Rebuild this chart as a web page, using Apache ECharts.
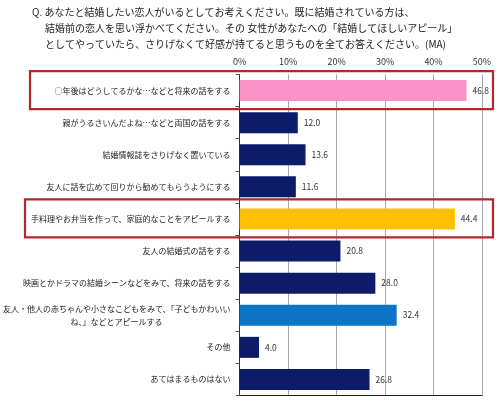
<!DOCTYPE html>
<html><head><meta charset="utf-8">
<script src="https://cdn.jsdelivr.net/npm/echarts@6/dist/echarts.min.js"></script>
<style>html,body{margin:0;padding:0;background:#fff}#c{width:500px;height:407px}</style>
</head><body><div id="c"></div>
<script>
const categories = [
  "○年後はどうしてるかな…などと将来の話をする",
  "親がうるさいんだよね…などと両国の話をする",
  "結婚情報誌をさりげなく置いている",
  "友人に話を広めて回りから勧めてもらうようにする",
  "手料理やお弁当を作って、家庭的なことをアピールする",
  "友人の結婚式の話をする",
  "映画とかドラマの結婚シーンなどをみて、将来の話をする",
  "友人・他人の赤ちゃんや小さなこどもをみて、「子どもかわいい\nね、」などとアピールする",
  "その他",
  "あてはまるものはない"
];
const values = [46.8, 12.0, 13.6, 11.6, 44.4, 20.8, 28.0, 32.4, 4.0, 26.8];
const tickValues = [0, 10, 20, 30, 40, 50];
const titleLines = [
  "Q. あなたと結婚したい恋人がいるとしてお考えください。既に結婚されている方は、",
  "結婚前の恋人を思い浮かべてください。その 女性があなたへの「結婚してほしいアピール」",
  "としてやっていたら、さりげなくて好感が持てると思うものを全てお答えください。(MA)"
];
const highlighted = [0, 4];

const NAVY = '#0c1c6a';
const barColors = {0: '#f993c9', 4: '#ffc000', 7: '#0b74c4'};
const FONT = '"Noto Sans CJK JP", "Noto Sans", sans-serif';

const chart = echarts.init(document.getElementById('c'), null, {renderer: 'canvas'});
const grid = {left: 237, right: 18, top: 74.5, bottom: 11.5};

function catLabel(v) {
  const parts = v.split('\n');
  if (parts.length > 1) {
    return '{a|' + parts[0] + '}\n{b|' + parts[1] + '}';
  }
  return v;
}

const option = {
  animation: false,
  textStyle: {fontFamily: FONT},
  grid: grid,
  xAxis: [{
    type: 'value', position: 'top', min: tickValues[0], max: tickValues[tickValues.length-1], interval: 10,
    axisLine: {show: false}, axisTick: {show: false},
    axisLabel: {formatter: '{value}%', fontSize: 9, color: '#333', margin: 8, fontFamily: FONT},
    splitLine: {show: true, lineStyle: {color: '#a8a8a8', width: 1}}
  }, {
    type: 'value', position: 'bottom', min: 0, max: 50, interval: 10,
    axisLine: {show: true, lineStyle: {color: '#222', width: 1}},
    axisTick: {show: false}, axisLabel: {show: false}, splitLine: {show: false}
  }],
  yAxis: [{
    type: 'category', data: categories, inverse: true,
    axisLine: {show: true, lineStyle: {color: '#555', width: 1}},
    axisTick: {show: true, length: 4, lineStyle: {color: '#555'}},
    axisLabel: {
      fontSize: 8, color: '#222', margin: 9, align: 'right', lineHeight: 13, fontFamily: FONT,
      formatter: catLabel,
      rich: {
        a: {fontSize: 8, color: '#222', fontFamily: FONT, lineHeight: 13},
        b: {fontSize: 8, color: '#222', fontFamily: FONT, lineHeight: 13, padding: [0, 68, 0, 0]}
      }
    }
  }, {
    type: 'category', data: categories, inverse: true, position: 'right',
    axisLine: {show: true, lineStyle: {color: '#333', width: 1}},
    axisTick: {show: false}, axisLabel: {show: false}
  }],
  series: [{
    type: 'bar', xAxisIndex: 0, yAxisIndex: 0, barWidth: 21,
    data: values.map((v, i) => ({value: v, itemStyle: {color: barColors[i] || NAVY}})),
    label: {
      show: true, position: 'right', distance: 6, fontSize: 8.5, color: '#333', fontFamily: FONT,
      formatter: p => p.value.toFixed(1)
    }
  }],
  graphic: titleLines.map((t, i) => ({
    type: 'text', left: i === 0 ? 32 : 45, top: 7 + i * 16,
    style: {text: t, fontSize: 10, fill: '#222', fontFamily: FONT}
  }))
};
chart.setOption(option);

// red emphasis boxes around highlighted rows, positioned from the category scale
const boxes = highlighted.map((idx, k) => {
  const cy = chart.convertToPixel({yAxisIndex: 0}, categories[idx]);
  return {
    type: 'rect', z: 100,
    shape: {x: k === 0 ? 30 : 25, y: cy - 19.5, width: (k === 0 ? 463 : 468), height: 38},
    style: {fill: 'none', stroke: '#b3272d', lineWidth: 2.2}
  };
});
chart.setOption({graphic: option.graphic.concat(boxes)});
</script></body></html>
